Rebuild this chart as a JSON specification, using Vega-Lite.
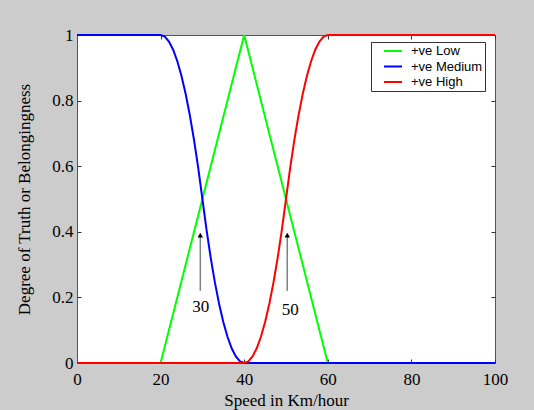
{
  "$schema": "https://vega.github.io/schema/vega-lite/v6.json",
  "width": 418,
  "height": 328,
  "autosize": {"type": "none"},
  "padding": {"left": 77, "top": 35, "right": 39, "bottom": 47},
  "background": "#cccccc",
  "config": {
    "view": {"fill": "white", "stroke": "#555555", "strokeWidth": 1},
    "axis": {
      "grid": false,
      "domainColor": "#555555",
      "tickColor": "#333333",
      "labelFont": "Liberation Serif",
      "titleFont": "Liberation Serif",
      "labelColor": "black",
      "titleColor": "black",
      "titleFontWeight": "normal"
    }
  },
  "datasets": {
    "curves": [
      {"speed": 0, "degree": 0, "set": "+ve Low"},
      {"speed": 20, "degree": 0, "set": "+ve Low"},
      {"speed": 40, "degree": 1, "set": "+ve Low"},
      {"speed": 60, "degree": 0, "set": "+ve Low"},
      {"speed": 100, "degree": 0, "set": "+ve Low"},
      {"speed": 0, "degree": 1, "set": "+ve Medium"},
      {"speed": 20, "degree": 1, "set": "+ve Medium"},
      {"speed": 21, "degree": 0.995, "set": "+ve Medium"},
      {"speed": 22, "degree": 0.98, "set": "+ve Medium"},
      {"speed": 23, "degree": 0.955, "set": "+ve Medium"},
      {"speed": 24, "degree": 0.92, "set": "+ve Medium"},
      {"speed": 25, "degree": 0.875, "set": "+ve Medium"},
      {"speed": 26, "degree": 0.82, "set": "+ve Medium"},
      {"speed": 27, "degree": 0.755, "set": "+ve Medium"},
      {"speed": 28, "degree": 0.68, "set": "+ve Medium"},
      {"speed": 29, "degree": 0.595, "set": "+ve Medium"},
      {"speed": 30, "degree": 0.5, "set": "+ve Medium"},
      {"speed": 31, "degree": 0.405, "set": "+ve Medium"},
      {"speed": 32, "degree": 0.32, "set": "+ve Medium"},
      {"speed": 33, "degree": 0.245, "set": "+ve Medium"},
      {"speed": 34, "degree": 0.18, "set": "+ve Medium"},
      {"speed": 35, "degree": 0.125, "set": "+ve Medium"},
      {"speed": 36, "degree": 0.08, "set": "+ve Medium"},
      {"speed": 37, "degree": 0.045, "set": "+ve Medium"},
      {"speed": 38, "degree": 0.02, "set": "+ve Medium"},
      {"speed": 39, "degree": 0.005, "set": "+ve Medium"},
      {"speed": 40, "degree": 0, "set": "+ve Medium"},
      {"speed": 100, "degree": 0, "set": "+ve Medium"},
      {"speed": 0, "degree": 0, "set": "+ve High"},
      {"speed": 40, "degree": 0, "set": "+ve High"},
      {"speed": 41, "degree": 0.005, "set": "+ve High"},
      {"speed": 42, "degree": 0.02, "set": "+ve High"},
      {"speed": 43, "degree": 0.045, "set": "+ve High"},
      {"speed": 44, "degree": 0.08, "set": "+ve High"},
      {"speed": 45, "degree": 0.125, "set": "+ve High"},
      {"speed": 46, "degree": 0.18, "set": "+ve High"},
      {"speed": 47, "degree": 0.245, "set": "+ve High"},
      {"speed": 48, "degree": 0.32, "set": "+ve High"},
      {"speed": 49, "degree": 0.405, "set": "+ve High"},
      {"speed": 50, "degree": 0.5, "set": "+ve High"},
      {"speed": 51, "degree": 0.595, "set": "+ve High"},
      {"speed": 52, "degree": 0.68, "set": "+ve High"},
      {"speed": 53, "degree": 0.755, "set": "+ve High"},
      {"speed": 54, "degree": 0.82, "set": "+ve High"},
      {"speed": 55, "degree": 0.875, "set": "+ve High"},
      {"speed": 56, "degree": 0.92, "set": "+ve High"},
      {"speed": 57, "degree": 0.955, "set": "+ve High"},
      {"speed": 58, "degree": 0.98, "set": "+ve High"},
      {"speed": 59, "degree": 0.995, "set": "+ve High"},
      {"speed": 60, "degree": 1, "set": "+ve High"},
      {"speed": 100, "degree": 1, "set": "+ve High"}
    ],
    "arrows": [
      {"speed": 29.5, "from": 0.22, "to": 0.39, "label": "30", "labelX": 29.6, "labelY": 0.17},
      {"speed": 50.3, "from": 0.22, "to": 0.39, "label": "50", "labelX": 51, "labelY": 0.163}
    ]
  },
  "layer": [
    {
      "data": {"name": "curves"},
      "mark": {"type": "line", "strokeWidth": 2, "clip": false},
      "encoding": {
        "x": {
          "field": "speed", "type": "quantitative",
          "scale": {"domain": [0, 100], "nice": false},
          "axis": {"values": [0, 20, 40, 60, 80, 100], "title": "Speed in Km/hour", "tickSize": -4, "labelPadding": 12, "labelFontSize": 17, "titleFontSize": 17, "titleX": 209, "titleY": 29, "labelFlush": false}
        },
        "y": {
          "field": "degree", "type": "quantitative",
          "scale": {"domain": [0, 1], "nice": false},
          "axis": {"values": [0, 0.2, 0.4, 0.6, 0.8, 1], "format": "~g", "title": "Degree of Truth or Belongingness", "tickSize": -4, "labelPadding": 8, "labelFontSize": 17, "titleFontSize": 17, "titleX": -44, "titleY": 164}
        },
        "color": {
          "field": "set", "type": "nominal",
          "scale": {"domain": ["+ve Low", "+ve Medium", "+ve High"], "range": ["#00ff00", "#0000ff", "#ff0000"]},
          "legend": {
            "title": null,
            "orient": "none",
            "legendX": 294,
            "legendY": 7,
            "fillColor": "white",
            "strokeColor": "#333333",
            "padding": 2,
            "symbolType": "stroke",
            "symbolSize": 324,
            "symbolStrokeWidth": 2,
            "symbolOffset": 10,
            "labelOffset": 8,
            "clipHeight": 14,
            "labelFont": "Liberation Sans",
            "labelFontSize": 13,
            "labelColor": "black",
            "rowPadding": 1.5
          }
        },
        "order": {"field": "speed"}
      }
    },
    {
      "data": {"name": "arrows"},
      "mark": {"type": "rule", "color": "#808080", "strokeWidth": 1.5},
      "encoding": {
        "x": {"field": "speed", "type": "quantitative", "axis": {"orient": "top", "values": [0, 20, 40, 60, 80, 100], "labels": false, "title": null, "tickSize": -4, "domain": false}},
        "y": {"field": "from", "type": "quantitative", "axis": {"orient": "right", "values": [0, 0.2, 0.4, 0.6, 0.8, 1], "labels": false, "title": null, "tickSize": -4, "domain": false}},
        "y2": {"field": "to"}
      }
    },
    {
      "data": {"name": "arrows"},
      "mark": {"type": "point", "shape": "triangle-up", "filled": true, "color": "black", "size": 30, "opacity": 1},
      "encoding": {
        "x": {"field": "speed", "type": "quantitative", "axis": null},
        "y": {"field": "to", "type": "quantitative", "axis": null}
      }
    },
    {
      "data": {"name": "arrows"},
      "mark": {"type": "text", "font": "Liberation Serif", "fontSize": 17, "color": "black"},
      "encoding": {
        "x": {"field": "labelX", "type": "quantitative", "axis": null},
        "y": {"field": "labelY", "type": "quantitative", "axis": null},
        "text": {"field": "label"}
      }
    }
  ],
  "resolve": {"axis": {"x": "independent", "y": "independent"}}
}
